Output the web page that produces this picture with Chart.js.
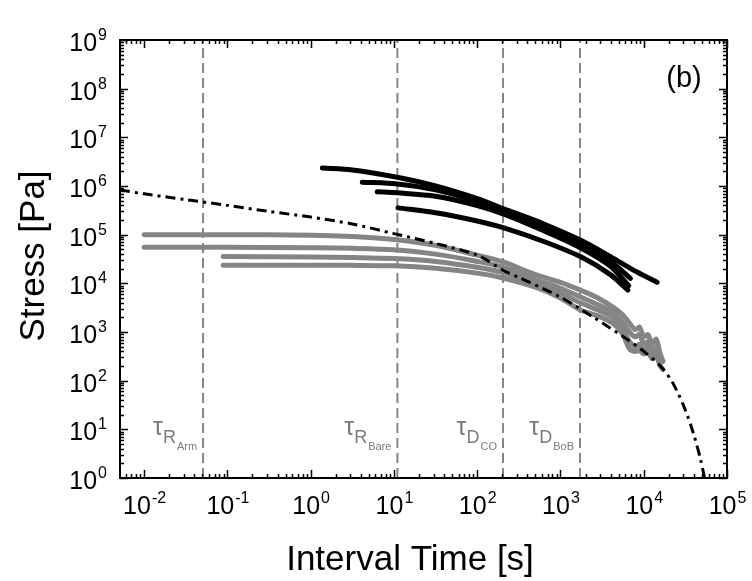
<!DOCTYPE html>
<html>
<head>
<meta charset="utf-8">
<script src="https://cdn.jsdelivr.net/npm/chart.js@4.4.1/dist/chart.umd.min.js"></script>
<style>
  body { margin: 0; background: #fff; }
  #wrap { width: 752px; height: 581px; }
</style>
</head>
<body>
<div id="wrap"><canvas id="chart" width="752" height="581"></canvas></div>
<script>
// Stress relaxation vs interval time, panel (b)

// axis ranges and tick labels (powers of ten)
const xMin = 0.00513, xMax = 1e5;
const yMin = 1, yMax = 1e9;
const xTickExp = [-2, -1, 0, 1, 2, 3, 4, 5];
const yTickExp = [0, 1, 2, 3, 4, 5, 6, 7, 8, 9];

// characteristic times (dashed lines)
const tauTimes = [0.051, 11, 204, 1715];
const tauMain = ['R', 'R', 'D', 'D'];
const tauSub = ['Arm', 'Bare', 'CO', 'BoB'];

// gray curves (shared time axis)
const grayX = [0.01, 0.089, 1, 3.16, 10, 31.6, 100, 204, 501, 1000, 1740, 2820, 4270, 5620, 6760, 7940, 8910, 10000, 11200, 12600, 14100, 15800, 17000];
const gray1 = [1.0e5, 1.0e5, 9.77e4, 9.12e4, 7.94e4, 6.03e4, 3.80e4, 2.75e4, 1.51e4, 1.05e4, 7240, 5010, 3240, 2240, 1510, 1120, 1260, 794, 891, 562, 708, 355, 250];
const gray2 = [5.5e4, 5.5e4, 5.37e4, 5.25e4, 4.90e4, 3.98e4, 2.82e4, 2.14e4, 1.20e4, 7940, 5250, 3630, 2510, 1580, 1000, 794, 891, 562, 631, 398, 479, 282, null];
const gray3 = [null, 3.55e4, 3.47e4, 3.39e4, 3.24e4, 2.82e4, 2.14e4, 1.66e4, 1.0e4, 6310, 3980, 2820, 2000, 1120, 631, 501, 562, 398, 501, 316, 355, 224, null];
const gray4 = [null, 2.34e4, 2.34e4, 2.34e4, 2.29e4, 2.04e4, 1.62e4, 1.29e4, 8320, 5010, 2820, 2140, 1510, 891, 447, 398, 417, 355, 398, 282, 316, 200, 170];

// black curves
const black1X = [1.38, 3.16, 11.0, 31.6, 100, 209, 631, 1780, 3980, 7940, 14450];
const black1Y = [2.34e6, 2.14e6, 1.51e6, 1.0e6, 5.5e5, 3.39e5, 1.66e5, 7.59e4, 3.55e4, 1.78e4, 1.05e4];
const black2X = [4.17, 11.0, 31.6, 100, 209, 631, 1780, 3980, 6920];
const black2Y = [1.20e6, 1.10e6, 8.32e5, 4.79e5, 3.02e5, 1.41e5, 6.31e4, 2.82e4, 1.26e4];
const black3X = [6.31, 11.0, 31.6, 100, 209, 631, 1780, 3980, 6610];
const black3Y = [7.59e5, 7.24e5, 6.17e5, 3.98e5, 2.63e5, 1.20e5, 5.25e4, 2.24e4, 8.91e3];
const black4X = [11.2, 31.6, 100, 209, 631, 1780, 3980, 6460];
const black4Y = [3.55e5, 2.82e5, 1.91e5, 1.38e5, 7.24e4, 3.47e4, 1.51e4, 7.24e3];

// dash-dot model curve
const modelX = [0.00513, 0.01, 0.0316, 0.1, 0.316, 1, 3.16, 10, 31.6, 100, 204, 316, 1000, 2450, 6310, 10000, 15850, 22400, 31600, 39800, 47900, 53700];
const modelY = [8.3e5, 6.9e5, 5.25e5, 4.0e5, 3.0e5, 2.3e5, 1.66e5, 1.05e5, 6.6e4, 3.8e4, 1.86e4, 1.32e4, 5.2e3, 2.04e3, 710, 400, 200, 89, 25, 7.9, 2.5, 1.0];

const FONT = "'Liberation Sans', Arial, sans-serif";
const GRAY = '#858585';

function pts(xs, ys) {
    return xs.map((x, i) => ({ x: x, y: ys[i] })).filter(p => p.y !== null);
}

function curve(data, color, width, order, dash) {
    return {
        data: data,
        showLine: true,
        borderColor: color,
        backgroundColor: color,
        borderWidth: width,
        borderDash: dash || [],
        pointRadius: 0,
        tension: 0.3,
        borderCapStyle: 'round',
        order: order
    };
}

const datasets = [];
tauTimes.forEach(t => {
    datasets.push(Object.assign(curve([{ x: t, y: yMin }, { x: t, y: yMax }], GRAY, 2, 5, [10, 5]), { tension: 0, borderCapStyle: 'butt' }));
});
[gray1, gray2, gray3, gray4].forEach(g => datasets.push(curve(pts(grayX, g), GRAY, 5, 4)));
datasets.push(curve(pts(black1X, black1Y), '#000', 5, 3));
datasets.push(curve(pts(black2X, black2Y), '#000', 5, 3));
datasets.push(curve(pts(black3X, black3Y), '#000', 5, 3));
datasets.push(curve(pts(black4X, black4Y), '#000', 5, 3));
datasets.push(Object.assign(curve(pts(modelX, modelY), '#000', 3, 1, [10, 5, 3, 5]), { borderCapStyle: 'butt' }));

// draw "10" with a raised exponent
function drawPow(ctx, exp, x, baseline, align) {
    ctx.font = '25px ' + FONT;
    const w1 = ctx.measureText('10').width;
    ctx.font = '16px ' + FONT;
    const w2 = ctx.measureText(String(exp)).width;
    let left = align === 'center' ? x - (w1 + w2) / 2 : x - w1 - w2;
    ctx.textAlign = 'left';
    ctx.font = '25px ' + FONT;
    ctx.fillText('10', left, baseline);
    ctx.font = '16px ' + FONT;
    ctx.fillText(String(exp), left + w1 + 1, baseline - 11);
}

const framePlugin = {
    id: 'frame',
    afterDraw(chart) {
        const { ctx, chartArea: a, scales: { x, y } } = chart;
        ctx.save();
        ctx.strokeStyle = '#000';
        ctx.lineWidth = 2;
        ctx.strokeRect(a.left, a.top, a.right - a.left, a.bottom - a.top);

        // inward ticks on all four sides
        ctx.lineWidth = 1.5;
        ctx.beginPath();
        for (let e = -3; e <= 5; e++) {
            for (let m = 1; m <= 9; m++) {
                const v = m * Math.pow(10, e);
                if (v < xMin || v > xMax) continue;
                const px = Math.round(x.getPixelForValue(v)) + 0.5;
                const len = m === 1 ? 8 : 4;
                ctx.moveTo(px, a.bottom); ctx.lineTo(px, a.bottom - len);
                ctx.moveTo(px, a.top); ctx.lineTo(px, a.top + len);
            }
        }
        for (let e = 0; e <= 9; e++) {
            for (let m = 1; m <= 9; m++) {
                const v = m * Math.pow(10, e);
                if (v < yMin || v > yMax) continue;
                const py = Math.round(y.getPixelForValue(v)) + 0.5;
                const len = m === 1 ? 8 : 4;
                ctx.moveTo(a.left, py); ctx.lineTo(a.left + len, py);
                ctx.moveTo(a.right, py); ctx.lineTo(a.right - len, py);
            }
        }
        ctx.stroke();

        // tick labels
        ctx.fillStyle = '#000';
        ctx.textBaseline = 'alphabetic';
        xTickExp.forEach(e => drawPow(ctx, e, x.getPixelForValue(Math.pow(10, e)), 514, 'center'));
        yTickExp.forEach(e => drawPow(ctx, e, 106, y.getPixelForValue(Math.pow(10, e)) + 11, 'right'));

        // axis titles
        ctx.font = '35px ' + FONT;
        ctx.textAlign = 'center';
        ctx.fillText('Interval Time [s]', 410, 570);
        ctx.save();
        ctx.translate(44, 256);
        ctx.rotate(-Math.PI / 2);
        ctx.fillText('Stress [Pa]', 0, 0);
        ctx.restore();

        // panel tag
        ctx.font = '29px ' + FONT;
        ctx.fillText('(b)', 684, 87);

        // tau labels, right aligned against their dashed line
        ctx.fillStyle = '#7a7a7a';
        ctx.textAlign = 'left';
        tauTimes.forEach((t, i) => {
            const right = x.getPixelForValue(t) - 6;
            ctx.font = '25px ' + FONT;
            const wt = ctx.measureText('\u03c4').width;
            ctx.font = '18px ' + FONT;
            const wm = ctx.measureText(tauMain[i]).width;
            ctx.font = '11px ' + FONT;
            const ws = ctx.measureText(tauSub[i]).width;
            let left = right - ws - wm - wt - 1;
            ctx.font = '25px ' + FONT;
            ctx.fillText('\u03c4', left, 435);
            ctx.font = '18px ' + FONT;
            ctx.fillText(tauMain[i], left + wt, 443);
            ctx.font = '11px ' + FONT;
            ctx.fillText(tauSub[i], left + wt + wm + 1, 450);
        });
        ctx.restore();
    }
};

new Chart(document.getElementById('chart'), {
    type: 'scatter',
    data: { datasets: datasets },
    options: {
        responsive: false,
        animation: false,
        layout: { padding: { left: 120, top: 40, right: 25, bottom: 103 } },
        plugins: { legend: { display: false }, tooltip: { enabled: false } },
        scales: {
            x: { type: 'logarithmic', min: xMin, max: xMax, display: false },
            y: { type: 'logarithmic', min: yMin, max: yMax, display: false }
        }
    },
    plugins: [framePlugin]
});
</script>
</body>
</html>
